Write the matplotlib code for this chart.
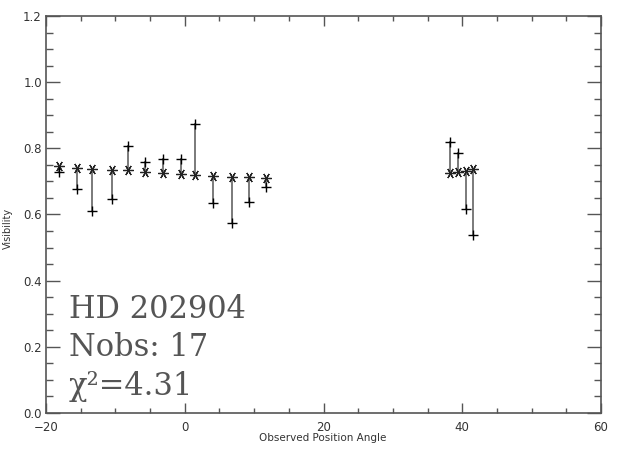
import matplotlib
matplotlib.use("Agg")
import matplotlib.pyplot as plt
from matplotlib.ticker import MultipleLocator

# observed position angle (deg)
pa = [-18.1, -15.6, -13.4, -10.5, -8.2, -5.8, -3.2, -0.5, 1.5, 4.1, 6.8, 9.3, 11.7,
      38.2, 39.4, 40.5, 41.6]
# model visibility (asterisks)
v_model = [0.746, 0.741, 0.739, 0.736, 0.734, 0.729, 0.724, 0.722, 0.719, 0.716,
           0.714, 0.712, 0.709, 0.724, 0.729, 0.732, 0.737]
# observed visibility (plus signs)
v_obs = [0.729, 0.676, 0.610, 0.647, 0.808, 0.759, 0.769, 0.767, 0.873, 0.634,
         0.575, 0.637, 0.684, 0.818, 0.785, 0.618, 0.538]

star_name = "HD 202904"
chi2 = 4.31

W, H = 625, 454
fig = plt.figure(figsize=(W / 100, H / 100), dpi=100)
ax = fig.add_axes([46 / W, 1 - 413 / H, 555 / W, 397 / H])

axcol = "#555555"
for i in range(len(pa)):
    ax.plot([pa[i], pa[i]], [v_model[i], v_obs[i]], color="#707070", lw=1.3, zorder=1)
ax.plot(pa, v_obs, ls="none", marker="+", ms=7.5, mew=1.0, color="black", zorder=3)
ax.plot(pa, v_model, ls="none", marker=(6, 2, 90), ms=7.5, mew=0.9, color="#222222", zorder=2)

ax.set_xlim(-20, 60)
ax.set_ylim(0, 1.2)
ax.xaxis.set_major_locator(MultipleLocator(20))
ax.xaxis.set_minor_locator(MultipleLocator(5))
ax.yaxis.set_major_locator(MultipleLocator(0.2))
ax.yaxis.set_minor_locator(MultipleLocator(0.05))
ax.yaxis.set_major_formatter(plt.FormatStrFormatter("%.1f"))

ax.tick_params(axis="both", which="both", direction="in", top=True, right=True,
               color=axcol, labelsize=8.5, labelcolor="#333333", width=1)
ax.tick_params(axis="x", which="major", length=7, pad=6)
ax.tick_params(axis="x", which="minor", length=3.5)
ax.tick_params(axis="y", which="major", length=10, pad=3)
ax.tick_params(axis="y", which="minor", length=5)
for s in ax.spines.values():
    s.set_color(axcol)
    s.set_linewidth(1.2)

fig.text(323 / W, 1 - 438 / H, "Observed Position Angle", ha="center", va="center",
         fontsize=7.5, color="#333333")
fig.text(8 / W, 1 - 228 / H, "Visibility", ha="center", va="center", rotation=90,
         fontsize=7, color="#333333")

lines = [star_name, "Nobs: %d" % len(pa), "\u03c7\u00b2=%.2f" % chi2]
for k, t in enumerate(lines):
    fig.text(69 / W, 1 - (318 + 38.5 * k) / H, t, ha="left", va="baseline",
             family="DejaVu Serif", fontsize=22, color="#555555")

fig.savefig("out.png", dpi=100)
